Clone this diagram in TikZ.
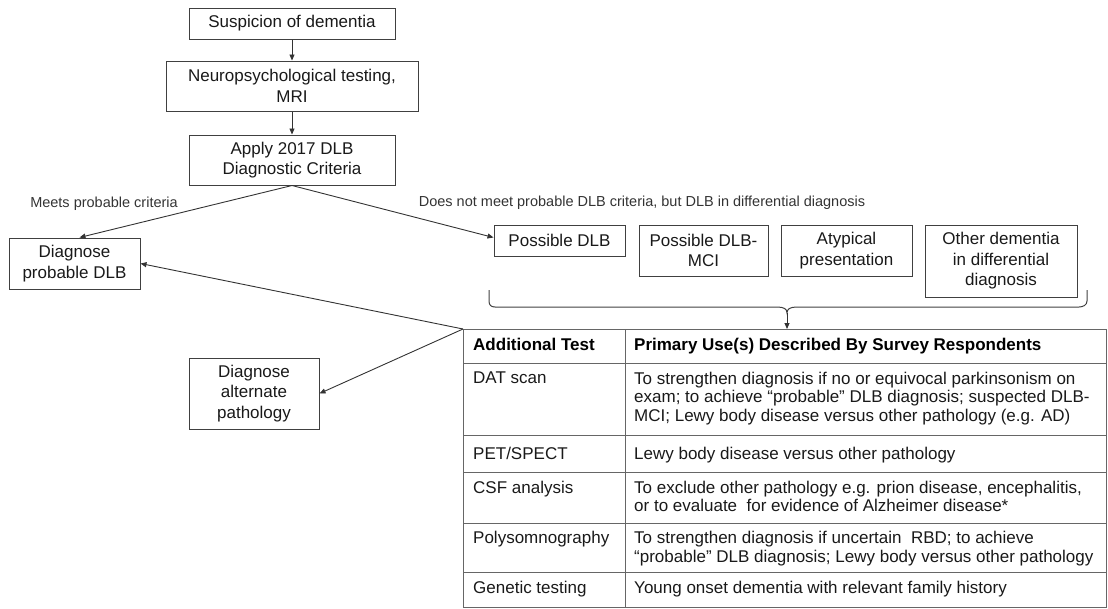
\documentclass[tikz,border=0pt]{standalone}
\usepackage{fontspec}
\setmainfont{Liberation Sans}
\usetikzlibrary{arrows.meta}
\begin{document}
\begin{tikzpicture}[x=1pt,y=-1pt,
  box/.style={draw=black!75, line width=1pt, align=center, inner sep=0pt, text=black!90, font=\fontsize{17}{20.5}\selectfont},
  cell/.style={draw=black!60, line width=1.2pt, inner sep=0pt, anchor=north west},
  ctext/.style={anchor=north west, inner sep=0pt, align=left, text=black!90, font=\fontsize{17}{18.5}\selectfont},
  htext/.style={anchor=north west, inner sep=0pt, align=left, text=black, font=\fontsize{17}{18.5}\selectfont\bfseries},
  lbl/.style={inner sep=0pt, text=black!80, font=\fontsize{14.5}{17}\selectfont},
  conn/.style={draw=black!80, line width=0.9pt, -{Triangle[length=6pt,width=5pt]}},
]
\useasboundingbox (0,0) rectangle (1108,608);

% flow boxes
\node[box, minimum width=206pt, minimum height=31pt] (susp) at (292,23.5) {Suspicion of dementia};
\node[box, minimum width=252pt, minimum height=50pt] (neuro) at (292,86) {Neuropsychological testing,\\MRI};
\node[box, minimum width=206pt, minimum height=50pt] (apply) at (292,160) {Apply 2017 DLB\\Diagnostic Criteria};
\node[box, minimum width=131pt, minimum height=51pt] (prob) at (74.5,263.5) {Diagnose\\probable DLB};
\node[box, minimum width=131pt, minimum height=31pt] (pdlb) at (559.5,240.5) {Possible DLB};
\node[box, minimum width=129pt, minimum height=51pt] (pmci) at (703.5,250.5) {Possible DLB-\\MCI};
\node[box, minimum width=131pt, minimum height=51pt] (atyp) at (846.5,250.5) {Atypical\\presentation};
\node[box, minimum width=152pt, minimum height=72pt] (other) at (1001,261) {Other dementia\\in differential\\diagnosis};
\node[box, minimum width=130pt, minimum height=71pt] (alt) at (254,393.5) {Diagnose\\alternate\\pathology};

% labels
\node[lbl] (lmeets) at (104,204) {Meets probable criteria};
\node[lbl] (lnot) at (642,203) {Does not meet probable DLB criteria, but DLB in differential diagnosis};

% table cells
\node[cell, minimum width=162pt, minimum height=34pt] (h1) at (463,329) {};
\node[cell, minimum width=481pt, minimum height=34pt] (h2) at (625,329) {};
\node[cell, minimum width=162pt, minimum height=72pt] (a1) at (463,363) {};
\node[cell, minimum width=481pt, minimum height=72pt] (a2) at (625,363) {};
\node[cell, minimum width=162pt, minimum height=37pt] (b1) at (463,435) {};
\node[cell, minimum width=481pt, minimum height=37pt] (b2) at (625,435) {};
\node[cell, minimum width=162pt, minimum height=51pt] (c1) at (463,472) {};
\node[cell, minimum width=481pt, minimum height=51pt] (c2) at (625,472) {};
\node[cell, minimum width=162pt, minimum height=49pt] (d1) at (463,523) {};
\node[cell, minimum width=481pt, minimum height=49pt] (d2) at (625,523) {};
\node[cell, minimum width=162pt, minimum height=35pt] (e1) at (463,572) {};
\node[cell, minimum width=481pt, minimum height=35pt] (e2) at (625,572) {};

% table texts
\node[htext] (th1) at ([shift={(10,9)}]h1.north west) {Additional Test};
\node[htext] (th2) at ([shift={(9,9)}]h2.north west) {Primary Use(s) Described By Survey Respondents};
\node[ctext] (ta1) at ([shift={(10,8.5)}]a1.north west) {DAT scan};
\node[ctext] (ta2) at ([shift={(9,8.5)}]a2.north west) {To strengthen diagnosis if no or equivocal parkinsonism on\\exam; to achieve \textquotedblleft probable\textquotedblright\ DLB diagnosis; suspected DLB-\\MCI; Lewy body disease versus other pathology (e.g. AD)};
\node[ctext] (tb1) at ([shift={(10,12)}]b1.north west) {PET/SPECT};
\node[ctext] (tb2) at ([shift={(9,12)}]b2.north west) {Lewy body disease versus other pathology};
\node[ctext] (tc1) at ([shift={(10,8.5)}]c1.north west) {CSF analysis};
\node[ctext] (tc2) at ([shift={(9,8.5)}]c2.north west) {To exclude other pathology e.g. prion disease, encephalitis,\\or to evaluate\ \ for evidence of Alzheimer disease*};
\node[ctext] (td1) at ([shift={(10,8)}]d1.north west) {Polysomnography};
\node[ctext] (td2) at ([shift={(9,8)}]d2.north west) {To strengthen diagnosis if uncertain\ \ RBD; to achieve\\\textquotedblleft probable\textquotedblright\ DLB diagnosis; Lewy body versus other pathology};
\node[ctext] (te1) at ([shift={(10,9)}]e1.north west) {Genetic testing};
\node[ctext] (te2) at ([shift={(9,9)}]e2.north west) {Young onset dementia with relevant family history};

% brace
\draw[draw=black!75, line width=1pt] (489,290) -- (489,301) .. controls (489,305) and (491,307) .. (495,307) -- (777,307) .. controls (784,307) and (787,309) .. (787,313) .. controls (787,309) and (790,307) .. (797,307) -- (1079,307) .. controls (1083,307) and (1087,305) .. (1087,301) -- (1087,290);
\coordinate (tip) at (787,313);

% connectors
\draw[conn] (susp.south) -- (neuro.north);
\draw[conn] (neuro.south) -- (apply.north);
\draw[conn] (apply.south) -- ([xshift=5pt]prob.north);
\draw[conn] (apply.south) -- ([yshift=3pt]pdlb.west);
\draw[conn] (tip) -- (tip |- h2.north);
\draw[conn] (h1.north west) -- (prob.east);
\draw[conn] (h1.north west) -- (alt.east);
\end{tikzpicture}
\end{document}
